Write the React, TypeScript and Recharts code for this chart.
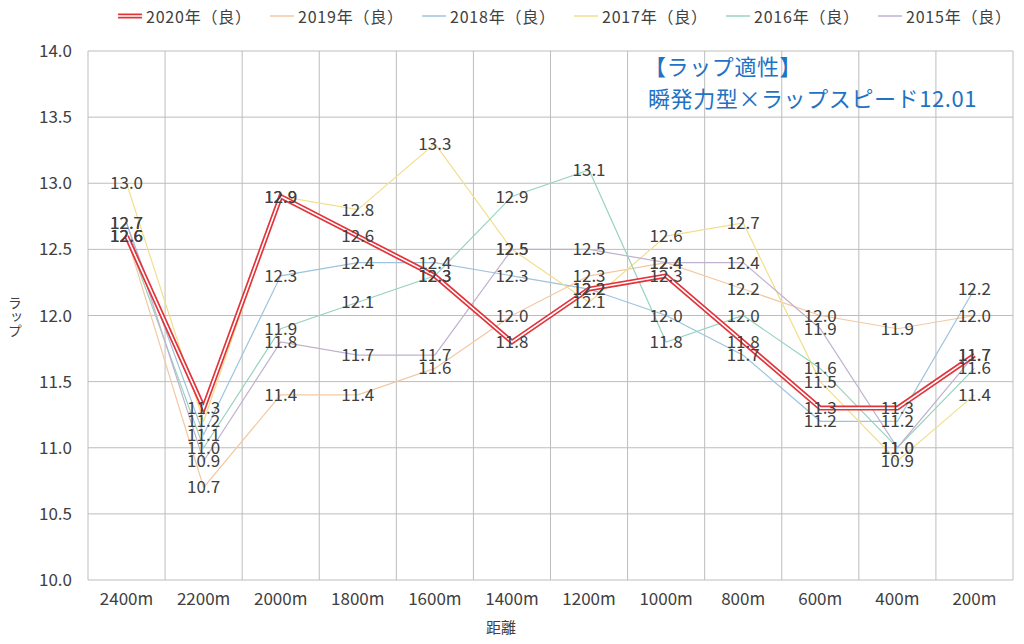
import { LineChart, Line, XAxis, YAxis, CartesianGrid, LabelList } from 'recharts'

// 距離ごとのラップ (秒)
const distances = ['2400m', '2200m', '2000m', '1800m', '1600m', '1400m', '1200m', '1000m', '800m', '600m', '400m', '200m']
const lap2020 = [12.6, 11.3, 12.9, 12.6, 12.3, 11.8, 12.2, 12.3, 11.8, 11.3, 11.3, 11.7]
const lap2019 = [12.6, 10.7, 11.4, 11.4, 11.6, 12.0, 12.3, 12.4, 12.2, 12.0, 11.9, 12.0]
const lap2018 = [12.7, 11.1, 12.3, 12.4, 12.4, 12.3, 12.2, 12.0, 11.7, 11.2, 11.2, 12.2]
const lap2017 = [13.0, 11.2, 12.9, 12.8, 13.3, 12.5, 12.1, 12.6, 12.7, 11.5, 10.9, 11.4]
const lap2016 = [12.6, 11.0, 11.9, 12.1, 12.3, 12.9, 13.1, 11.8, 12.0, 11.6, 11.0, 11.6]
const lap2015 = [12.7, 10.9, 11.8, 11.7, 11.7, 12.5, 12.5, 12.4, 12.4, 11.9, 11.0, 11.7]
const yTicks = [10, 10.5, 11, 11.5, 12, 12.5, 13, 13.5, 14]

const RED = '#e2343b'
const TEXT = '#404040'

const others = [
  { key: 'y2019', name: '2019年（良）', color: '#f2c9a3' },
  { key: 'y2018', name: '2018年（良）', color: '#9dc4dc' },
  { key: 'y2017', name: '2017年（良）', color: '#f2df8c' },
  { key: 'y2016', name: '2016年（良）', color: '#97d3be' },
  { key: 'y2015', name: '2015年（良）', color: '#c0b1d0' },
]

const data = distances.map((d, i) => ({
  name: d,
  y2020: lap2020[i],
  y2019: lap2019[i],
  y2018: lap2018[i],
  y2017: lap2017[i],
  y2016: lap2016[i],
  y2015: lap2015[i],
}))

const fmt = (v: number) => v.toFixed(1)

function LegendRow() {
  const items = [{ key: 'y2020', name: '2020年（良）', color: RED }, ...others]
  return (
    <div
      style={{
        position: 'absolute',
        top: 6,
        left: 118,
        display: 'flex',
        alignItems: 'center',
        fontSize: 16,
        letterSpacing: 0.8,
        color: TEXT,
        lineHeight: '20px',
      }}
    >
      {items.map((it) => (
        <div key={it.key} style={{ display: 'flex', alignItems: 'center', width: 152 }}>
          <svg width={24} height={8} style={{ marginRight: 4 }}>
            {it.key === 'y2020' ? (
              <>
                <line x1={0} y1={4} x2={24} y2={4} stroke={RED} strokeWidth={5} />
                <line x1={0} y1={4} x2={24} y2={4} stroke="#fff" strokeWidth={1.5} />
              </>
            ) : (
              <line x1={0} y1={4} x2={24} y2={4} stroke={it.color} strokeWidth={1.5} />
            )}
          </svg>
          <span>{it.name}</span>
        </div>
      ))}
    </div>
  )
}

export default function App() {
  return (
    <div
      style={{
        position: 'relative',
        width: 1024,
        height: 644,
        background: '#fff',
        fontFamily: '"Noto Sans CJK JP", "Noto Sans", sans-serif',
      }}
    >
      <style>{'body { margin: 0; }'}</style>
      <LineChart width={1024} height={644} data={data} margin={{ top: 51, right: 11, bottom: 0, left: 0 }}>
        <CartesianGrid
          stroke="#bdbdbd"
          verticalCoordinatesGenerator={({ offset }: any) =>
            Array.from({ length: distances.length + 1 }, (_, i) => offset.left + (i * offset.width) / distances.length)
          }
        />
        <XAxis
          dataKey="name"
          scale="band"
          interval={0}
          axisLine={false}
          tickLine={false}
          tickSize={0}
          tickMargin={13}
          height={64}
          tick={{ fill: TEXT, fontSize: 17 }}
        />
        <YAxis
          type="number"
          domain={[10, 14]}
          ticks={yTicks}
          width={88}
          axisLine={false}
          tickLine={false}
          tickSize={0}
          tickMargin={16}
          tickFormatter={fmt}
          tick={{ fill: TEXT, fontSize: 17 }}
        />
        {others.map((s) => (
          <Line
            key={s.key}
            dataKey={s.key}
            name={s.name}
            stroke={s.color}
            strokeWidth={1.2}
            dot={false}
            isAnimationActive={false}
          >
            <LabelList dataKey={s.key} position="center" fill={TEXT} fontSize={17} formatter={fmt as any} />
          </Line>
        ))}
        <Line dataKey="y2020" name="2020年（良）" stroke={RED} strokeWidth={5} dot={false} isAnimationActive={false} />
        <Line dataKey="y2020" stroke="#fff" strokeWidth={1.6} dot={false} legendType="none" isAnimationActive={false}>
          <LabelList dataKey="y2020" position="center" fill={TEXT} fontSize={17} formatter={fmt as any} />
        </Line>
      </LineChart>
      <LegendRow />
      <div
        style={{
          position: 'absolute',
          left: 9,
          top: 296,
          width: 14,
          fontSize: 14,
          lineHeight: '16px',
          color: TEXT,
          textAlign: 'center',
          writingMode: 'vertical-rl',
        }}
      >
        ラップ
      </div>
      <div style={{ position: 'absolute', left: 486, top: 616, fontSize: 15, color: TEXT }}>距離</div>
      <div
        style={{
          position: 'absolute',
          left: 644,
          top: 49,
          fontSize: 22,
          letterSpacing: 0.6,
          lineHeight: '32px',
          color: '#1f72c4',
        }}
      >
        <div>【ラップ適性】</div>
        <div style={{ paddingLeft: 4 }}>瞬発力型×ラップスピード12.01</div>
      </div>
    </div>
  )
}
